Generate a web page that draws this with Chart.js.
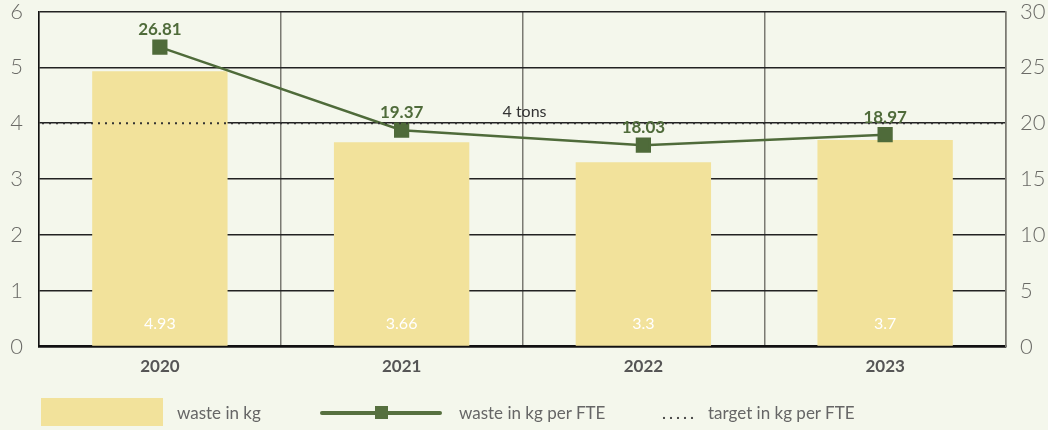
<!DOCTYPE html>
<html>
<head>
<meta charset="utf-8">
<script src="https://cdn.jsdelivr.net/npm/chart.js@4.4.1/dist/chart.umd.min.js"></script>
<style>
  html, body { margin: 0; padding: 0; background: #f4f7ec; }
  #wrap { position: relative; width: 1048px; height: 430px; font-family: Lato, 'Noto Sans', sans-serif; }
  #legend { position: absolute; left: 0; top: 398px; width: 1048px; height: 30px; color: #666; font-size: 17px; }
  #legend .it { position: absolute; top: 0; height: 30px; line-height: 30px; }
</style>
</head>
<body>
<div id="wrap">
  <canvas id="chart" width="1048" height="430"></canvas>
  <div id="legend">
    <div class="it" style="left:41px;width:122px;height:28px;background:#f2e29b"></div>
    <div class="it" style="left:177px">waste in kg</div>
    <div class="it" style="left:320px;width:122px">
      <div style="position:absolute;left:0;top:13px;width:122px;height:4px;border-radius:2px;background:#56703f"></div>
      <div style="position:absolute;left:55px;top:8px;width:13px;height:13px;background:#56703f"></div>
    </div>
    <div class="it" style="left:459px">waste in kg per FTE</div>
    <div class="it" style="left:662px;letter-spacing:3px;color:#333">.....</div>
    <div class="it" style="left:708px">target in kg per FTE</div>
  </div>
</div>
<script>
const years = ['2020', '2021', '2022', '2023'];
const wasteKg = [4.93, 3.66, 3.3, 3.7];
const wastePerFte = [26.81, 19.37, 18.03, 18.97];
const targetValue = 4;
const targetLabel = '4 tons';

const BAR = '#f2e29b';
const GREEN = '#4f6b3a';

// data labels + target line
const extras = {
  id: 'extras',
  afterDatasetsDraw(chart) {
    const ctx = chart.ctx;
    const area = chart.chartArea;
    const y = chart.scales.y.getPixelForValue(targetValue);
    ctx.save();
    ctx.strokeStyle = '#333';
    ctx.lineWidth = 2;
    ctx.setLineDash([2, 5]);
    ctx.beginPath();
    ctx.moveTo(area.left + 3, y);
    ctx.lineTo(area.right - 3, y);
    ctx.stroke();
    ctx.setLineDash([]);
    ctx.fillStyle = '#333';
    ctx.font = '16px Lato, sans-serif';
    ctx.textAlign = 'center';
    ctx.textBaseline = 'bottom';
    ctx.fillText(targetLabel, (area.left + area.right) / 2 + 2, y - 3);

    // bar values
    const bars = chart.getDatasetMeta(1).data;
    ctx.fillStyle = '#fff';
    ctx.font = '16px Lato, sans-serif';
    ctx.textBaseline = 'middle';
    bars.forEach((b, i) => ctx.fillText(String(wasteKg[i]), b.x, area.bottom - 23));

    // line values
    const pts = chart.getDatasetMeta(0).data;
    ctx.fillStyle = GREEN;
    ctx.font = 'bold 17px Lato, sans-serif';
    ctx.textBaseline = 'bottom';
    pts.forEach((p, i) => ctx.fillText(wastePerFte[i].toFixed(2), p.x, p.y - 9));
    ctx.restore();
  }
};

function fixV(width) {
  return s => { s.width = width; s.paddingTop = 0; s.paddingBottom = 0; };
}

new Chart(document.getElementById('chart'), {
  type: 'bar',
  data: {
    labels: years,
    datasets: [{
      type: 'line',
      label: 'waste in kg per FTE',
      data: wastePerFte,
      yAxisID: 'y1',
      borderColor: GREEN,
      backgroundColor: GREEN,
      borderWidth: 2.5,
      pointStyle: 'rect',
      pointRadius: 9,
      pointHoverRadius: 9,
      pointBackgroundColor: GREEN,
      pointBorderColor: GREEN,
      tension: 0,
      order: 0
    }, {
      label: 'waste in kg',
      data: wasteKg,
      yAxisID: 'y',
      backgroundColor: BAR,
      borderWidth: 0,
      categoryPercentage: 0.56,
      barPercentage: 1,
      order: 1
    }]
  },
  options: {
    responsive: false,
    animation: false,
    layout: { padding: { top: 10, bottom: 43 } },
    plugins: { legend: { display: false }, tooltip: { enabled: false } },
    scales: {
      x: {
        grid: { color: '#7a7a72', lineWidth: 1.5, offset: true, drawTicks: false },
        border: { color: '#111', width: 2.5 },
        ticks: { color: '#555', padding: 10, font: { family: 'Lato', size: 17, weight: 'bold' } }
      },
      y: {
        position: 'left',
        min: 0, max: 6,
        ticks: { stepSize: 1, color: '#6a6a66', padding: 16, font: { family: 'Lato', size: 22, weight: '300' } },
        grid: { color: '#222', lineWidth: 1.5, drawTicks: false },
        border: { color: '#111', width: 1.5 },
        afterFit: fixV(39)
      },
      y1: {
        position: 'right',
        min: 0, max: 30,
        ticks: { stepSize: 5, color: '#6a6a66', padding: 14, font: { family: 'Lato', size: 22, weight: '300' } },
        grid: { display: false, drawTicks: false },
        border: { color: '#7a7a72', width: 1.5 },
        afterFit: fixV(42)
      }
    }
  },
  plugins: [extras]
});
</script>
</body>
</html>
